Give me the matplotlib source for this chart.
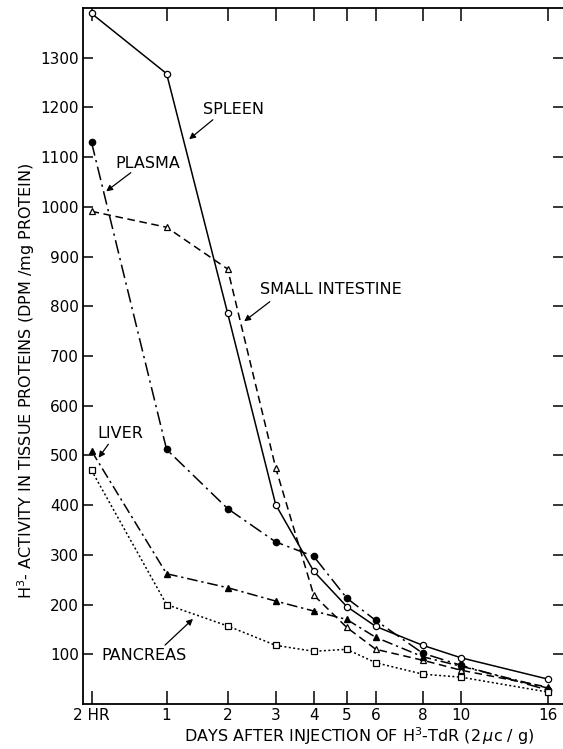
import numpy as np
import matplotlib
matplotlib.use("Agg")
import matplotlib.pyplot as plt

# ---- data ----
days = [2/24, 1, 2, 3, 4, 5, 6, 8, 10, 16]
tick_labels = ["2 HR", "1", "2", "3", "4", "5", "6", "8", "10", "16"]

spleen = [1389, 1268, 786, 401, 267, 196, 156, 118, 93, 50]
plasma = [1130, 512, 393, 326, 297, 213, 168, 102, 78, 28]
small_intestine = [991, 959, 875, 475, 219, 154, 110, 88, 68, 34]
liver = [509, 262, 234, 207, 187, 170, 134, 95, 76, 32]
pancreas = [470, 200, 157, 118, 106, 110, 83, 60, 54, 24]

yticks = [100, 200, 300, 400, 500, 600, 700, 800, 900, 1000, 1100, 1200, 1300]

# ---- hand-drawn (non-uniform) time axis ----
knot_days = np.array([0.0, 2/24, 1, 2, 3, 4, 5, 6, 8, 10, 16, 17])
knot_pos = np.array([83.5, 92, 167, 228, 276, 314, 347, 376, 423, 461, 548, 562.5])

def fwd(x):
    return np.interp(x, knot_days, knot_pos)

def inv(p):
    return np.interp(p, knot_pos, knot_days)

plt.rcParams['font.family'] = ['DejaVu Sans']

W, H = 563, 749
fig = plt.figure(figsize=(W/100, H/100), dpi=100)
ax = fig.add_axes([83/W, 1 - 704/H, (562.5 - 83)/W, (704 - 8)/H])
ax.set_xscale('function', functions=(fwd, inv))
ax.set_xlim(0, 17)
ax.set_ylim(0, 1400)

lw = 1.1
ms = 4.5
ax.plot(days, spleen, color='black', lw=lw, ls='-', marker='o', ms=ms,
        mfc='white', mec='black', mew=0.9, zorder=5)
ax.plot(days, plasma, color='black', lw=lw, ls=(0, (9, 3, 1.5, 3)), marker='o',
        ms=ms, mfc='black', mec='black', zorder=5)
ax.plot(days, small_intestine, color='black', lw=lw, ls=(0, (5, 3)), marker='^',
        ms=ms, mfc='white', mec='black', mew=0.9, zorder=5)
ax.plot(days, liver, color='black', lw=lw, ls=(0, (7, 2.5, 1.5, 2.5)), marker='^',
        ms=ms + 0.5, mfc='black', mec='black', zorder=5)
ax.plot(days, pancreas, color='black', lw=lw, ls=(0, (1.3, 1.6)), marker='s',
        ms=ms, mfc='white', mec='black', mew=0.9, zorder=5)

# ---- axes styling ----
ax.set_xticks(days)
ax.set_xticklabels(tick_labels, fontsize=11)
ax.set_yticks(yticks)
ax.set_yticklabels([str(v) for v in yticks], fontsize=11)
ax.tick_params(axis='both', direction='in', width=1.1, color='black',
               top=True, right=True, labeltop=False, labelright=False)
ax.tick_params(axis='x', length=9.5, pad=3)
ax.tick_params(axis='y', length=7.5, pad=3)
for s in ['left', 'bottom', 'top']:
    ax.spines[s].set_linewidth(1.3)
ax.spines['right'].set_visible(False)

ax.set_xlabel(r"DAYS AFTER INJECTION OF H$^3$-TdR (2$\,\mu$c / g)", fontsize=11.5,
              labelpad=0)
ax.xaxis.label.set_verticalalignment('center')
ax.xaxis.set_label_coords(0.576, -0.046)
ax.set_ylabel(r"H$^3$- ACTIVITY IN TISSUE PROTEINS (DPM /mg PROTEIN)", fontsize=11.5)
ax.yaxis.set_label_coords(-0.096, 0.464)

# ---- annotations (in pixel-based figure coords) ----
def fc(px, py):
    return (px / W, 1 - py / H)

arrow = dict(arrowstyle='-|>', color='black', lw=0.9, mutation_scale=9)
notes = [
    ("SPLEEN", (234, 109), (215, 118), (187, 141)),
    ("PLASMA", (148, 163), (133, 171), (104, 193)),
    ("SMALL INTESTINE", (331, 289), (272, 300), (242, 323)),
    ("LIVER", (120, 433), (110, 442), (97, 460)),
    ("PANCREAS", (144, 655), (163, 647), (195, 617)),
]
for txt, tpos, tail, head in notes:
    fig.text(*fc(*tpos), txt, fontsize=11.5, ha='center', va='center')
    ax.annotate("", xy=fc(*head), xycoords='figure fraction',
                xytext=fc(*tail), textcoords='figure fraction',
                arrowprops=arrow)

fig.savefig("out.png", dpi=100)
